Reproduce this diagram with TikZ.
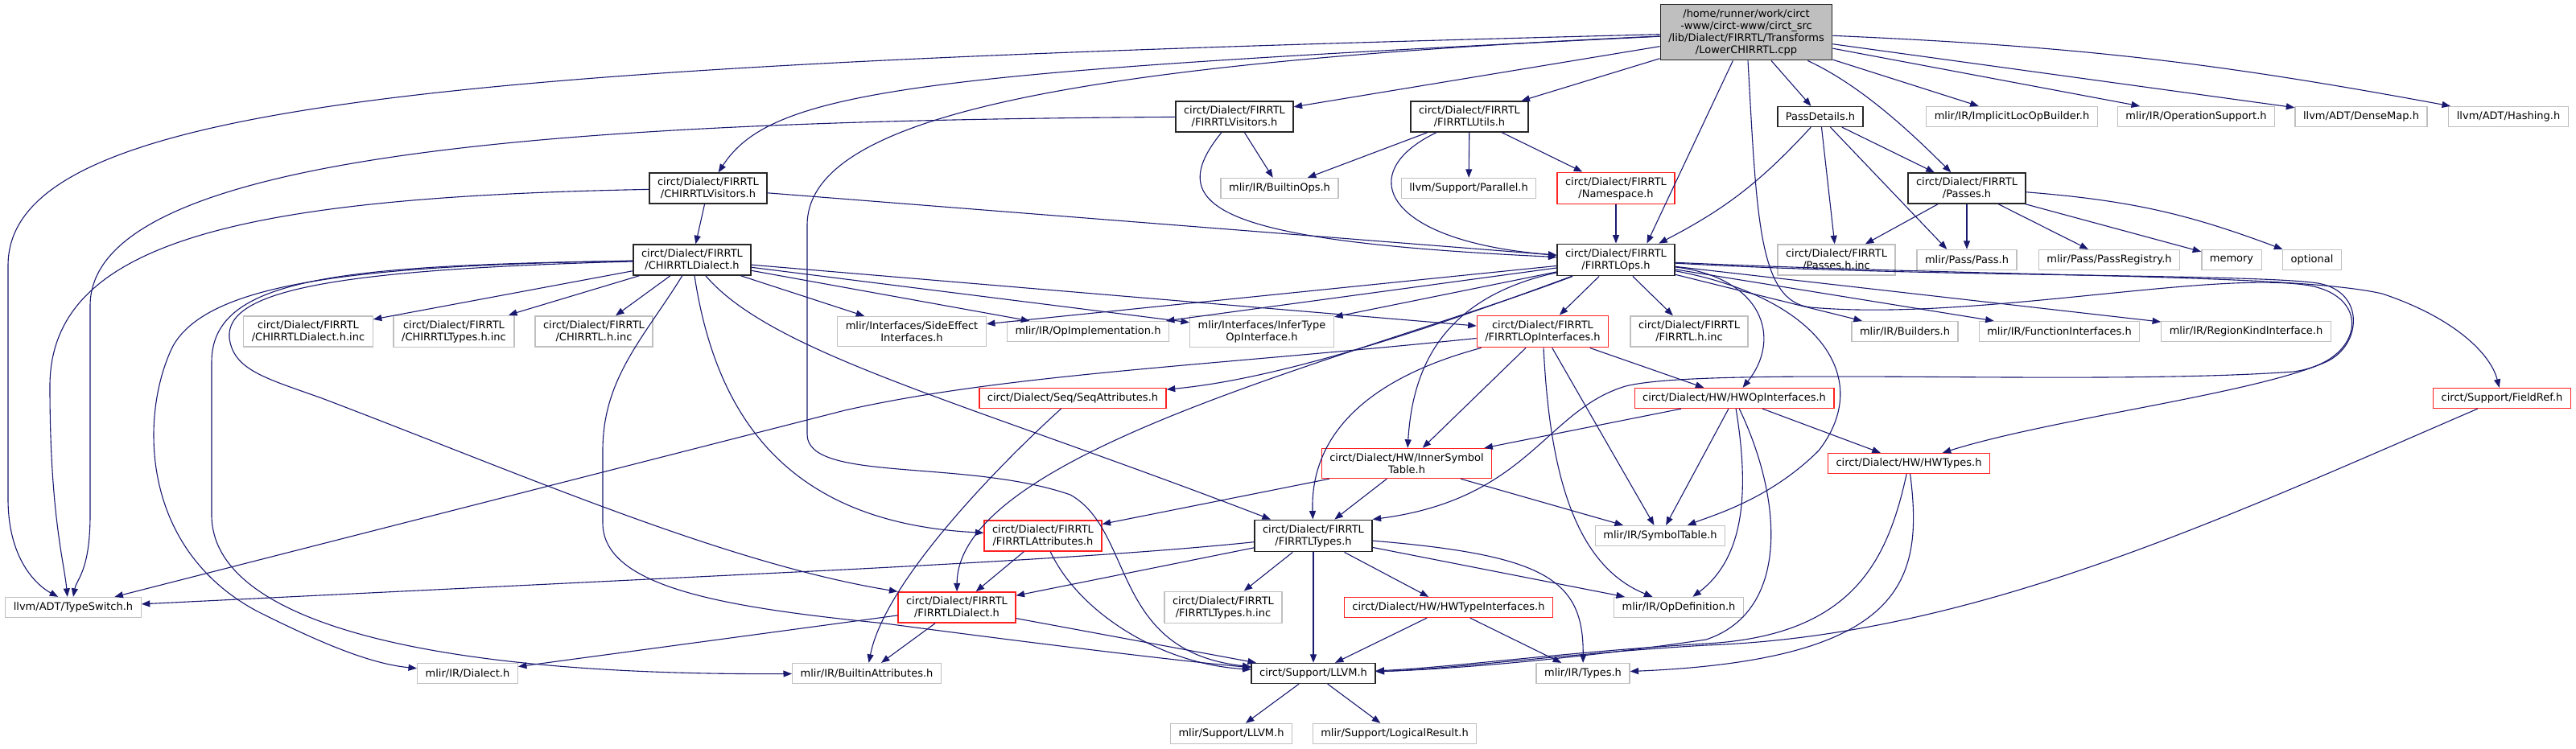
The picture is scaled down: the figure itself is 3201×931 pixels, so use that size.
\documentclass[tikz,border=0pt]{standalone}
\usepackage{fontspec}
\setmainfont{DejaVu Sans}
\usepackage{tikz}
\usetikzlibrary{arrows.meta}

\definecolor{incblue}{HTML}{191970}
\definecolor{rootgrey}{HTML}{BFBFBF}
\definecolor{extgrey}{HTML}{C0C0C0}
\definecolor{truncred}{HTML}{FF2020}

\begin{document}
\begin{tikzpicture}[x=1pt, y=-1pt, >={Triangle[length=10.5pt,width=8pt]},
  filebox/.style={font=\fontsize{13}{15}\selectfont, align=center, inner xsep=10pt, inner ysep=6pt,
    minimum height=25pt, line width=1.3pt, fill=white},
  docbox/.style={filebox, draw=black!85},
  extbox/.style={filebox, draw=extgrey},
  redbox/.style={filebox, draw=truncred},
  rootbox/.style={filebox, draw=black!85, fill=rootgrey},
  inc/.style={->, draw=incblue, line width=1.1pt}]
  \useasboundingbox (0,0) rectangle (3201,931);

  % === FILES ===
  \node[rootbox] (root) at (2170,40) {/home/runner/work/circt\\-www/circt-www/circt\_src\\/lib/Dialect/FIRRTL/Transforms\\/LowerCHIRRTL.cpp};

  \node[docbox] (firrtlVis) at (1534,145) {circt/Dialect/FIRRTL\\/FIRRTLVisitors.h};
  \node[docbox] (firrtlUtils) at (1826,145) {circt/Dialect/FIRRTL\\/FIRRTLUtils.h};
  \node[docbox] (passDetails) at (2262,145) {PassDetails.h};
  \node[extbox] (implicitLoc) at (2500,145) {mlir/IR/ImplicitLocOpBuilder.h};
  \node[extbox] (opSupport) at (2729,145) {mlir/IR/OperationSupport.h};
  \node[extbox] (denseMap) at (2934,145) {llvm/ADT/DenseMap.h};
  \node[extbox] (hashing) at (3117,145) {llvm/ADT/Hashing.h};

  \node[docbox] (chirrtlVis) at (880,234) {circt/Dialect/FIRRTL\\/CHIRRTLVisitors.h};
  \node[extbox] (builtinOps) at (1590,234) {mlir/IR/BuiltinOps.h};
  \node[extbox] (parallel) at (1825,234) {llvm/Support/Parallel.h};
  \node[redbox] (namespace) at (2008,234) {circt/Dialect/FIRRTL\\/Namespace.h};
  \node[docbox] (passes) at (2444,234) {circt/Dialect/FIRRTL\\/Passes.h};

  \node[docbox] (chirrtlDialect) at (860,323) {circt/Dialect/FIRRTL\\/CHIRRTLDialect.h};
  \node[docbox] (firrtlOps) at (2008,323) {circt/Dialect/FIRRTL\\/FIRRTLOps.h};
  \node[extbox] (passesInc) at (2282,323) {circt/Dialect/FIRRTL\\/Passes.h.inc};
  \node[extbox] (passH) at (2444,323) {mlir/Pass/Pass.h};
  \node[extbox] (passRegistry) at (2621,323) {mlir/Pass/PassRegistry.h};
  \node[extbox] (memory) at (2773,323) {memory};
  \node[extbox] (optional) at (2873,323) {optional};

  \node[extbox] (chDialectInc) at (383,412) {circt/Dialect/FIRRTL\\/CHIRRTLDialect.h.inc};
  \node[extbox] (chTypesInc) at (564,412) {circt/Dialect/FIRRTL\\/CHIRRTLTypes.h.inc};
  \node[extbox] (chirrtlInc) at (738,412) {circt/Dialect/FIRRTL\\/CHIRRTL.h.inc};
  \node[extbox] (sideEffect) at (1133,412) {mlir/Interfaces/SideEffect\\Interfaces.h};
  \node[extbox] (opImpl) at (1352,412) {mlir/IR/OpImplementation.h};
  \node[extbox] (inferType) at (1568,412) {mlir/Interfaces/InferType\\OpInterface.h};
  \node[redbox] (firrtlOpIfc) at (1917,412) {circt/Dialect/FIRRTL\\/FIRRTLOpInterfaces.h};
  \node[extbox] (firrtlInc) at (2099,412) {circt/Dialect/FIRRTL\\/FIRRTL.h.inc};
  \node[extbox] (builders) at (2367,412) {mlir/IR/Builders.h};
  \node[extbox] (funcIfc) at (2559,412) {mlir/IR/FunctionInterfaces.h};
  \node[extbox] (regionKind) at (2791,412) {mlir/IR/RegionKindInterface.h};

  \node[redbox] (seqAttr) at (1333,495) {circt/Dialect/Seq/SeqAttributes.h};
  \node[redbox] (hwOpIfc) at (2155,495) {circt/Dialect/HW/HWOpInterfaces.h};
  \node[redbox] (fieldRef) at (3109,495) {circt/Support/FieldRef.h};

  \node[redbox] (innerSym) at (1748,576) {circt/Dialect/HW/InnerSymbol\\Table.h};
  \node[redbox] (hwTypes) at (2372,576) {circt/Dialect/HW/HWTypes.h};

  \node[redbox] (firrtlAttr) at (1296,666) {circt/Dialect/FIRRTL\\/FIRRTLAttributes.h};
  \node[docbox] (firrtlTypes) at (1632,666) {circt/Dialect/FIRRTL\\/FIRRTLTypes.h};
  \node[extbox] (symTable) at (2063,666) {mlir/IR/SymbolTable.h};

  \node[extbox] (typeswitch) at (91,755) {llvm/ADT/TypeSwitch.h};
  \node[redbox] (firrtlDialect) at (1189,755) {circt/Dialect/FIRRTL\\/FIRRTLDialect.h};
  \node[extbox] (firrtlTypesInc) at (1520,755) {circt/Dialect/FIRRTL\\/FIRRTLTypes.h.inc};
  \node[redbox] (hwTypeIfc) at (1800,755) {circt/Dialect/HW/HWTypeInterfaces.h};
  \node[extbox] (opDef) at (2086,755) {mlir/IR/OpDefinition.h};

  \node[extbox] (dialectH) at (581,837) {mlir/IR/Dialect.h};
  \node[extbox] (builtinAttr) at (1077,837) {mlir/IR/BuiltinAttributes.h};
  \node[docbox] (llvm) at (1632,837) {circt/Support/LLVM.h};
  \node[extbox] (types) at (1967,837) {mlir/IR/Types.h};

  \node[extbox] (mlirLLVM) at (1530,912) {mlir/Support/LLVM.h};
  \node[extbox] (logicalResult) at (1733,912) {mlir/Support/LogicalResult.h};

  % === INCLUDES OF THE ROOT ===
  \draw[inc] (root) .. controls (600,80) and (10,120) .. (10,330) -- (10,620) .. controls (10,700) and (50,730) .. (typeswitch.145);
  \draw[inc] (root) .. controls (1150,90) and (960,110) .. (chirrtlVis);
  \draw[inc] (root) -- (firrtlVis);
  \draw[inc] (root) -- (firrtlUtils);
  \draw[inc] (root) -- (firrtlOps.28);
  \draw[inc] (root) -- (passDetails);
  \draw[inc] (root) .. controls (2310,105) and (2370,160) .. (passes);
  \draw[inc] (root) -- (implicitLoc);
  \draw[inc] (root) -- (opSupport);
  \draw[inc] (root) -- (denseMap);
  \draw[inc] (root) to[bend left=4] (hashing);
  \draw[inc] (root) .. controls (1300,80) and (1003,150) .. (1003,280) -- (1003,540)
    .. controls (1003,600) and (1200,570) .. (1330,615) .. controls (1410,660) and (1380,810) .. (llvm);
  \draw[inc] (root) .. controls (2183,270) and (2185,375) .. (2250,382) .. controls (2450,400) and (2750,335) .. (2870,355)
    .. controls (2950,370) and (2935,450) .. (2850,462) .. controls (2600,480) and (2120,455) .. (2020,480)
    .. controls (1920,510) and (1900,620) .. (firrtlTypes.north east);

  % === VISITORS, UTILS, PASSES ===
  \draw[inc] (chirrtlVis) -- (chirrtlDialect);
  \draw[inc] (chirrtlVis) .. controls (300,245) and (62,300) .. (62,480) .. controls (62,640) and (80,700) .. (typeswitch.119);
  \draw[inc] (chirrtlVis) -- (firrtlOps);

  \draw[inc] (firrtlVis) .. controls (700,150) and (112,190) .. (112,380) -- (112,640) .. controls (112,710) and (95,720) .. (typeswitch.90);
  \draw[inc] (firrtlVis) -- (builtinOps);
  \draw[inc] (firrtlVis) .. controls (1440,260) and (1520,300) .. (firrtlOps);

  \draw[inc] (firrtlUtils) -- (builtinOps);
  \draw[inc] (firrtlUtils) -- (parallel);
  \draw[inc] (firrtlUtils) -- (namespace);
  \draw[inc] (firrtlUtils) .. controls (1680,215) and (1720,300) .. (firrtlOps);
  \draw[inc] (namespace) -- (firrtlOps);

  \draw[inc] (passDetails) to[bend left=10] (firrtlOps.21);
  \draw[inc] (passDetails) -- (passesInc);
  \draw[inc] (passDetails) -- (passH.152);
  \draw[inc] (passDetails) -- (passes);

  \draw[inc] (passes) -- (passesInc);
  \draw[inc] (passes) -- (passH);
  \draw[inc] (passes) -- (passRegistry);
  \draw[inc] (passes) -- (memory);
  \draw[inc] (passes) to[bend left=8] (optional);

  % === CHIRRTL DIALECT ===
  \draw[inc] (chirrtlDialect) -- (chDialectInc);
  \draw[inc] (chirrtlDialect) -- (chTypesInc);
  \draw[inc] (chirrtlDialect) -- (chirrtlInc);
  \draw[inc] (chirrtlDialect) -- (sideEffect);
  \draw[inc] (chirrtlDialect) -- (opImpl);
  \draw[inc] (chirrtlDialect) -- (inferType);
  \draw[inc] (chirrtlDialect) -- (firrtlOpIfc);
  \draw[inc] (chirrtlDialect) .. controls (960,440) and (1200,500) .. (firrtlTypes);
  \draw[inc] (chirrtlDialect) .. controls (890,520) and (980,650) .. (firrtlAttr);
  \draw[inc] (chirrtlDialect) .. controls (800,420) and (749,470) .. (749,560) -- (749,650)
    .. controls (749,730) and (900,755) .. (1100,775) .. controls (1250,795) and (1450,820) .. (llvm);
  \draw[inc] (chirrtlDialect) .. controls (450,330) and (260,350) .. (215,430) .. controls (175,510) and (170,680) .. (320,760)
    .. controls (400,800) and (460,825) .. (dialectH);
  \draw[inc] (chirrtlDialect) .. controls (420,330) and (263,345) .. (263,450) -- (263,640)
    .. controls (263,770) and (520,840) .. (builtinAttr);
  \draw[inc] (chirrtlDialect) .. controls (420,335) and (280,360) .. (285,420) .. controls (290,460) and (330,470) .. (400,495)
    .. controls (650,590) and (900,700) .. (firrtlDialect.north west);

  % === FIRRTL OPS ===
  \draw[inc] (firrtlOps) -- (sideEffect);
  \draw[inc] (firrtlOps) -- (opImpl);
  \draw[inc] (firrtlOps) -- (inferType);
  \draw[inc] (firrtlOps) -- (firrtlOpIfc);
  \draw[inc] (firrtlOps) -- (firrtlInc);
  \draw[inc] (firrtlOps) .. controls (1800,400) and (1600,470) .. (seqAttr);
  \draw[inc] (firrtlOps) .. controls (1790,370) and (1755,460) .. (innerSym);
  \draw[inc] (firrtlOps) .. controls (1700,440) and (1190,560) .. (firrtlDialect);
  \draw[inc] (firrtlOps) -- (builders);
  \draw[inc] (firrtlOps) -- (funcIfc);
  \draw[inc] (firrtlOps) -- (regionKind);
  \draw[inc] (firrtlOps) .. controls (2500,345) and (2850,340) .. (2960,365) .. controls (3050,395) and (3095,440) .. (fieldRef);
  \draw[inc] (firrtlOps) .. controls (2190,345) and (2215,420) .. (hwOpIfc);
  \draw[inc] (firrtlOps) .. controls (2260,370) and (2330,470) .. (2260,560) .. controls (2200,620) and (2130,640) .. (symTable);
  \draw[inc] (firrtlOps) .. controls (2400,345) and (2800,340) .. (2880,352) .. controls (2940,362) and (2935,430) .. (2890,450)
    .. controls (2800,490) and (2550,520) .. (hwTypes);

  % === INTERFACES ===
  \draw[inc] (firrtlOpIfc) .. controls (1500,455) and (1250,465) .. (1050,510) -- (typeswitch);
  \draw[inc] (firrtlOpIfc) -- (innerSym);
  \draw[inc] (firrtlOpIfc) .. controls (1700,470) and (1628,540) .. (firrtlTypes);
  \draw[inc] (firrtlOpIfc) -- (hwOpIfc);
  \draw[inc] (firrtlOpIfc) -- (symTable);
  \draw[inc] (firrtlOpIfc) .. controls (1925,570) and (1950,700) .. (opDef);

  \draw[inc] (seqAttr) .. controls (1250,570) and (1100,720) .. (builtinAttr);

  \draw[inc] (hwOpIfc) -- (innerSym);
  \draw[inc] (hwOpIfc) -- (symTable);
  \draw[inc] (hwOpIfc) -- (hwTypes);
  \draw[inc] (hwOpIfc) .. controls (2172,600) and (2172,690) .. (opDef);
  \draw[inc] (hwOpIfc) .. controls (2215,620) and (2225,760) .. (2120,795) .. controls (1950,820) and (1800,832) .. (llvm);

  \draw[inc] (innerSym) -- (firrtlAttr);
  \draw[inc] (innerSym) -- (firrtlTypes);
  \draw[inc] (innerSym) -- (symTable);

  \draw[inc] (hwTypes) .. controls (2345,700) and (2300,790) .. (2120,800) .. controls (1950,810) and (1800,830) .. (llvm);
  \draw[inc] (hwTypes) .. controls (2390,720) and (2370,820) .. (types);
  \draw[inc] (fieldRef) .. controls (2750,650) and (2450,790) .. (2120,802) .. controls (1950,812) and (1800,832) .. (llvm);

  % === FIRRTL ATTRIBUTES, TYPES, DIALECT ===
  \draw[inc] (firrtlAttr) -- (firrtlDialect);
  \draw[inc] (firrtlAttr) .. controls (1340,760) and (1440,825) .. (llvm);

  \draw[inc] (firrtlTypes) .. controls (1450,685) and (1300,695) .. (1050,708) -- (typeswitch);
  \draw[inc] (firrtlTypes) -- (firrtlDialect);
  \draw[inc] (firrtlTypes) -- (firrtlTypesInc);
  \draw[inc] (firrtlTypes) -- (llvm);
  \draw[inc] (firrtlTypes) -- (hwTypeIfc);
  \draw[inc] (firrtlTypes) -- (opDef);
  \draw[inc] (firrtlTypes) .. controls (1920,690) and (1968,720) .. (types);

  \draw[inc] (firrtlDialect) -- (dialectH);
  \draw[inc] (firrtlDialect) -- (builtinAttr);
  \draw[inc] (firrtlDialect) -- (llvm);

  \draw[inc] (hwTypeIfc) -- (llvm);
  \draw[inc] (hwTypeIfc) -- (types);

  % === SUPPORT ===
  \draw[inc] (llvm) -- (mlirLLVM);
  \draw[inc] (llvm) -- (logicalResult);
\end{tikzpicture}
\end{document}
